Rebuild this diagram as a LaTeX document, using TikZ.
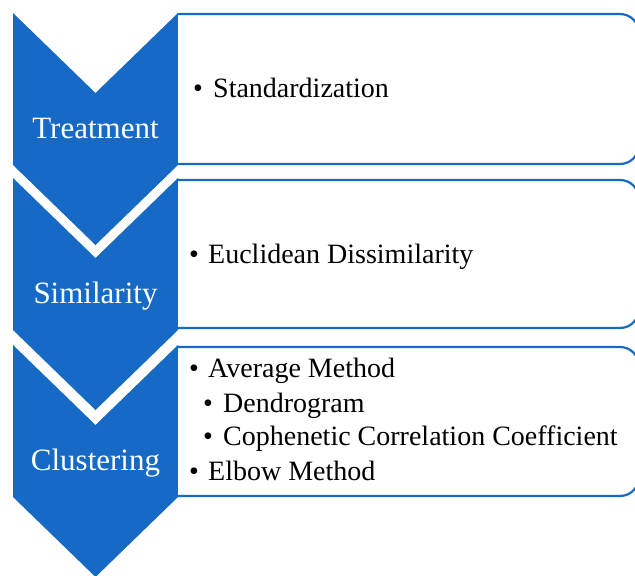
\documentclass[tikz,border=0pt]{standalone}
\usepackage{fontspec}
\setmainfont{Liberation Serif}
\definecolor{chevblue}{RGB}{22,106,198}
\begin{document}
\begin{tikzpicture}[x=1pt,y=-1pt,
  chev/.style={fill=chevblue,draw=none},
  infobox/.style={draw=chevblue,line width=2.2pt,fill=white},
  lbl/.style={text=white,font=\fontsize{31}{36}\selectfont,inner sep=0pt,anchor=base},
  item/.style={text=black,font=\fontsize{28}{33}\selectfont,inner sep=0pt,anchor=base west},
  bul/.style={text=black,font=\fontsize{28}{33}\selectfont,inner sep=0pt,anchor=base}]
\useasboundingbox (0,0) rectangle (635,576);
% chevrons
\foreach \t in {13,178,345}{
  \fill[chev] (13,\t) -- (95.5,\t+80) -- (178,\t) -- (178,\t+152) -- (95.5,\t+232) -- (13,\t+152) -- cycle;
}
% boxes
\draw[infobox] (178,14) [rounded corners=19] -- (639,14) -- (639,164) [sharp corners] -- (178,164);
\draw[infobox] (178,180) [rounded corners=19] -- (639,180) -- (639,328) [sharp corners] -- (178,328);
\draw[infobox] (178,347) [rounded corners=19] -- (639,347) -- (639,496) [sharp corners] -- (178,496);
% labels
\node[lbl] (l1) at (95.5,138) {Treatment};
\node[lbl] (l2) at (95.5,303) {Similarity};
\node[lbl] (l3) at (95.5,470) {Clustering};
% items
\node[bul] (b1) at (198,97) {•};
\node[item] (i1) at (213,97) {Standardization};
\node[bul] (b2) at (194,263) {•};
\node[item] (i2) at (208,263) {Euclidean Dissimilarity};
\node[bul] (b3) at (194,377) {•};
\node[item] (i3) at (208,377) {Average Method};
\node[bul] (b4) at (208,412) {•};
\node[item] (i4) at (223,412) {Dendrogram};
\node[bul] (b5) at (208,445) {•};
\node[item] (i5) at (223,445) {Cophenetic Correlation Coefficient};
\node[bul] (b6) at (194,480) {•};
\node[item] (i6) at (208,480) {Elbow Method};
\end{tikzpicture}
\end{document}
